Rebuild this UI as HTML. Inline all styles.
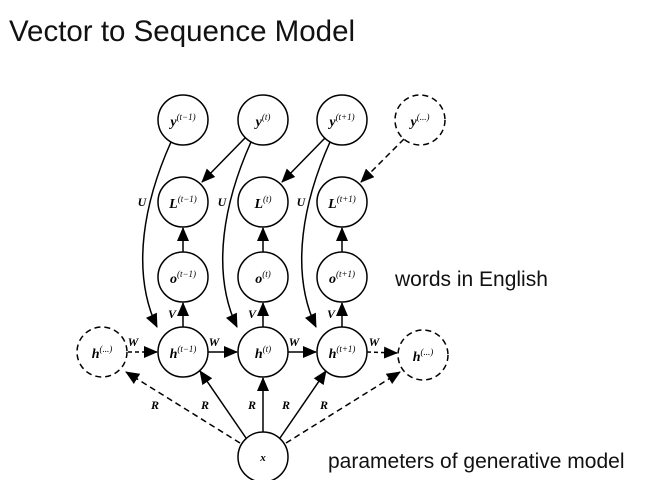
<!DOCTYPE html>
<html><head><style>
body{margin:0;background:#fff;}
svg{display:block}
.m{font-family:"Liberation Serif",serif;font-style:italic;font-weight:bold;font-size:14px;}
.s{font-size:9px;font-weight:normal;}
.l{font-family:"Liberation Serif",serif;font-style:italic;font-weight:bold;font-size:12px;}
.t{font-family:"Liberation Sans",sans-serif;fill:#111;}
</style></head><body>
<svg width="647" height="480" viewBox="0 0 647 480" xmlns="http://www.w3.org/2000/svg">
<defs>
<marker id="b" markerWidth="14" markerHeight="12" refX="13" refY="6" orient="auto" markerUnits="userSpaceOnUse"><path d="M0,0 L14,6 L0,12 z" fill="#000"/></marker>
</defs>
<text class="t" x="9" y="41" font-size="29.5">Vector to Sequence Model</text>
<text class="t" x="395" y="286" font-size="21">words in English</text>
<text class="t" x="328" y="468" font-size="21">parameters of generative model</text>
<g fill="none" stroke="#000" stroke-width="1.5">
<circle cx="183" cy="120" r="25"/><circle cx="263" cy="120" r="25"/><circle cx="342" cy="120" r="25"/>
<circle cx="420" cy="120" r="25" stroke-dasharray="6,4"/>
<circle cx="183" cy="202" r="25"/><circle cx="263" cy="202" r="25"/><circle cx="342" cy="202" r="25"/>
<circle cx="183" cy="277" r="25"/><circle cx="263" cy="277" r="25"/><circle cx="342" cy="277" r="25"/>
<circle cx="183" cy="352" r="25"/><circle cx="263" cy="352" r="25"/><circle cx="342" cy="352" r="25"/>
<circle cx="102" cy="352" r="25" stroke-dasharray="6,4"/><circle cx="423" cy="355" r="25" stroke-dasharray="6,4"/>
<circle cx="263" cy="457" r="25"/>
<path d="M245,138 L202,182" marker-end="url(#b)"/>
<path d="M325,138 L282,182" marker-end="url(#b)"/>
<path d="M404,139 L361,182" stroke-dasharray="6,4" marker-end="url(#b)"/>
<path d="M171,142 C145,200 130,270 157,327" marker-end="url(#b)"/>
<path d="M251,142 C225,200 210,270 237,327" marker-end="url(#b)"/>
<path d="M330,142 C304,200 289,270 316,327" marker-end="url(#b)"/>
<path d="M183,252 L183,228" marker-end="url(#b)"/><path d="M263,252 L263,228" marker-end="url(#b)"/><path d="M342,252 L342,228" marker-end="url(#b)"/>
<path d="M183,327 L183,303" marker-end="url(#b)"/><path d="M263,327 L263,303" marker-end="url(#b)"/><path d="M342,327 L342,303" marker-end="url(#b)"/>
<path d="M128,352 L157,352" stroke-dasharray="4,3" marker-end="url(#b)"/>
<path d="M208,352 L237,352" marker-end="url(#b)"/>
<path d="M288,352 L316,352" marker-end="url(#b)"/>
<path d="M367,352 L397,353" stroke-dasharray="4,3" marker-end="url(#b)"/>
<path d="M263,432 L263,378" marker-end="url(#b)"/>
<path d="M246,438 L200,371" marker-end="url(#b)"/>
<path d="M280,438 L326,371" marker-end="url(#b)"/>
<path d="M240,443 L126,372" stroke-dasharray="6,4" marker-end="url(#b)"/>
<path d="M286,443 L400,372" stroke-dasharray="6,4" marker-end="url(#b)"/>
</g>
<g class="m" text-anchor="middle">
<text x="183" y="126">y<tspan class="s" dy="-6">(t−1)</tspan></text>
<text x="263" y="126">y<tspan class="s" dy="-6">(t)</tspan></text>
<text x="342" y="126">y<tspan class="s" dy="-6">(t+1)</tspan></text>
<text x="420" y="126">y<tspan class="s" dy="-6">(...)</tspan></text>
<text x="183" y="208">L<tspan class="s" dy="-6">(t−1)</tspan></text>
<text x="263" y="208">L<tspan class="s" dy="-6">(t)</tspan></text>
<text x="342" y="208">L<tspan class="s" dy="-6">(t+1)</tspan></text>
<text x="183" y="283">o<tspan class="s" dy="-6">(t−1)</tspan></text>
<text x="263" y="283">o<tspan class="s" dy="-6">(t)</tspan></text>
<text x="342" y="283">o<tspan class="s" dy="-6">(t+1)</tspan></text>
<text x="183" y="358">h<tspan class="s" dy="-6">(t−1)</tspan></text>
<text x="263" y="358">h<tspan class="s" dy="-6">(t)</tspan></text>
<text x="342" y="358">h<tspan class="s" dy="-6">(t+1)</tspan></text>
<text x="102" y="358">h<tspan class="s" dy="-6">(...)</tspan></text>
<text x="423" y="361">h<tspan class="s" dy="-6">(...)</tspan></text>
<text x="263" y="461" font-size="11">x</text>
</g>
<g class="l" text-anchor="middle">
<text x="142" y="206">U</text><text x="222" y="206">U</text><text x="301" y="206">U</text>
<text x="172" y="318">V</text><text x="252" y="318">V</text><text x="331" y="318">V</text>
<text x="133" y="346">W</text><text x="214" y="346">W</text><text x="294" y="346">W</text><text x="374" y="346">W</text>
<text x="155" y="409">R</text><text x="205" y="409">R</text><text x="252" y="409">R</text><text x="286" y="409">R</text><text x="324" y="409">R</text>
</g>
</svg>
</body></html>
